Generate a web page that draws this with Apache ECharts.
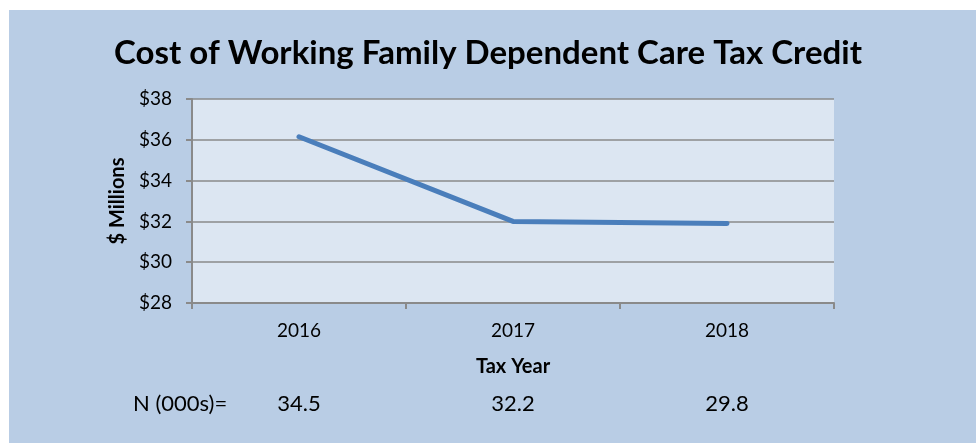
<!DOCTYPE html>
<html>
<head>
<meta charset="utf-8">
<script src="https://cdn.jsdelivr.net/npm/echarts@6/dist/echarts.min.js"></script>
<style>
  html, body { margin: 0; padding: 0; background: #ffffff; }
  #main { width: 976px; height: 443px; }
</style>
</head>
<body>
<div id="main"></div>
<script>
// data
var years = ['2016', '2017', '2018'];
var costMillions = [36.15, 32.0, 31.9];
var nThousands = ['34.5', '32.2', '29.8'];
var yTicks = { min: 28, max: 38, step: 2 };

var chart = echarts.init(document.getElementById('main'));

var font = 'Lato, "Open Sans", sans-serif';
var gray = '#8a8a8a';

var option = {
  backgroundColor: '#ffffff',
  animation: false,
  graphic: [
    {
      type: 'rect', z: -10, silent: true,
      shape: { x: 9, y: 10, width: 967, height: 433 },
      style: { fill: '#b9cde5' }
    },
    {
      type: 'text', left: 133, top: 393,
      style: { text: 'N (000s)=', font: '22px ' + font, fill: '#000' }
    }
  ],
  title: {
    text: 'Cost of Working Family Dependent Care Tax Credit',
    left: 'center', top: 32,
    textStyle: { fontFamily: font, fontWeight: 'bold', fontSize: 33, color: '#000' }
  },
  grid: {
    left: 192, right: 142, top: 99, bottom: 140,
    show: true, backgroundColor: '#dce6f2', borderWidth: 0
  },
  xAxis: [
    {
      type: 'category', data: years, boundaryGap: true,
      name: 'Tax Year', nameLocation: 'middle', nameGap: 54,
      nameTextStyle: { fontFamily: font, fontWeight: 'bold', fontSize: 20, color: '#000' },
      axisLine: { lineStyle: { color: gray, width: 2 } },
      axisTick: { show: true, length: 6, lineStyle: { color: gray, width: 2 } },
      axisLabel: { margin: 18, fontFamily: font, fontSize: 19, color: '#000' },
      splitLine: { show: false }
    },
    {
      type: 'category', data: nThousands, position: 'bottom', offset: 72,
      axisLine: { show: false }, axisTick: { show: false },
      axisLabel: { margin: 18, fontFamily: font, fontSize: 22, color: '#000' },
      splitLine: { show: false }
    }
  ],
  yAxis: {
    type: 'value', min: yTicks.min, max: yTicks.max, interval: yTicks.step,
    name: '$ Millions', nameLocation: 'middle', nameGap: 64, nameRotate: 90,
    nameTextStyle: { fontFamily: font, fontWeight: 'bold', fontSize: 20, color: '#000' },
    axisLine: { show: true, lineStyle: { color: gray, width: 2 } },
    axisTick: { show: true, length: 6, lineStyle: { color: gray, width: 2 } },
    axisLabel: {
      margin: 20, fontFamily: font, fontSize: 19, color: '#000',
      formatter: function (v) { return '$' + v; }
    },
    splitLine: { show: true, lineStyle: { color: gray, width: 1.5 } }
  },
  series: [{
    type: 'line', data: costMillions, xAxisIndex: 0,
    symbol: 'none', smooth: false,
    lineStyle: { color: '#4a7ebb', width: 5, cap: 'round' }
  }]
};

chart.setOption(option);
</script>
</body>
</html>
